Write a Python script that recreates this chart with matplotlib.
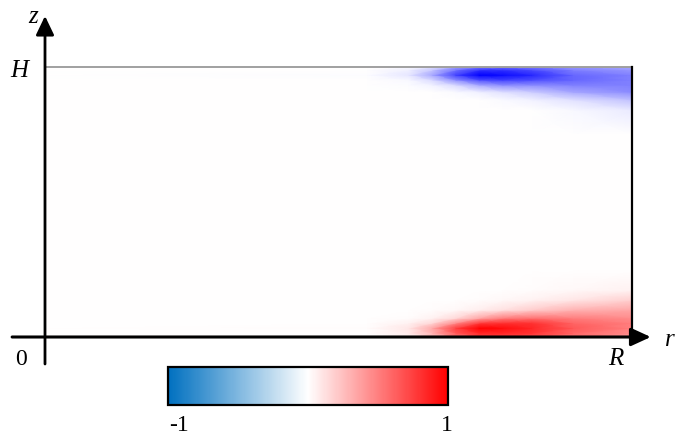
import numpy as np
import matplotlib
matplotlib.use("Agg")
import matplotlib.pyplot as plt
from matplotlib.colors import LinearSegmentedColormap, Normalize
import matplotlib as mpl

# ---- data (fractions of R and H) ----
r_pts = [0.0, 0.55, 0.62, 0.66, 0.70, 0.74, 0.78, 0.83, 0.90, 1.0]
z_pts = [0.0, 0.015, 0.033, 0.052, 0.07, 0.10, 0.137, 0.174, 0.25,
         0.75, 0.84, 0.878, 0.907, 0.933, 0.952, 0.970, 0.989, 1.0]
field = [
    [0, 0.00, 0.06, 0.25, 0.55, 0.75, 0.75, 0.70, 0.55, 0.42],
    [0, 0.00, 0.08, 0.30, 0.65, 0.85, 0.85, 0.80, 0.60, 0.45],
    [0, 0.01, 0.10, 0.35, 0.75, 1.00, 0.95, 0.85, 0.65, 0.50],
    [0, 0.00, 0.05, 0.15, 0.45, 0.75, 0.80, 0.80, 0.60, 0.50],
    [0, 0.00, 0.01, 0.05, 0.15, 0.35, 0.50, 0.55, 0.50, 0.45],
    [0, 0.00, 0.00, 0.01, 0.03, 0.07, 0.12, 0.20, 0.30, 0.35],
    [0, 0.00, 0.00, 0.00, 0.00, 0.01, 0.03, 0.05, 0.10, 0.18],
    [0, 0.00, 0.00, 0.00, 0.00, 0.00, 0.00, 0.01, 0.03, 0.05],
    [0, 0.00, 0.00, 0.00, 0.00, 0.00, 0.00, 0.00, 0.00, 0.00],
    [0, 0.00, 0.00, 0.00, 0.00, 0.00, 0.00, 0.00, 0.00, 0.00],
    [0, 0.00, 0.00, 0.00, 0.00, 0.00, 0.00, 0.00, -0.03, -0.08],
    [0, 0.00, 0.00, 0.00, 0.00, 0.00, -0.02, -0.05, -0.12, -0.25],
    [0, 0.00, 0.00, 0.00, -0.02, -0.06, -0.12, -0.20, -0.35, -0.45],
    [0, 0.00, -0.01, -0.05, -0.15, -0.35, -0.45, -0.45, -0.50, -0.50],
    [0, 0.00, -0.03, -0.15, -0.45, -0.70, -0.75, -0.70, -0.60, -0.50],
    [0, -0.01, -0.10, -0.35, -0.75, -1.00, -0.95, -0.85, -0.60, -0.50],
    [0, 0.00, -0.06, -0.22, -0.55, -0.80, -0.80, -0.70, -0.50, -0.40],
    [0, 0.00, -0.03, -0.12, -0.35, -0.50, -0.55, -0.50, -0.40, -0.35],
]
cbar_labels = ["-1", "1"]

W, Hpx = 688, 436
fig = plt.figure(figsize=(W / 100, Hpx / 100), dpi=100)

# main axes: r in [0,1] -> x 45..632 ; z in [0,1] -> y 337..67
ax = fig.add_axes([45 / W, (Hpx - 337) / Hpx, 587 / W, 270 / Hpx])
ax.set_xlim(0, 1)
ax.set_ylim(0, 1)
ax.axis("off")

field_cmap = LinearSegmentedColormap.from_list("fld", ["#0000FF", "#FFFFFF", "#FF0000"])
RR, ZZ = np.meshgrid(r_pts, z_pts)
ax.pcolormesh(RR, ZZ, np.array(field), shading="gouraud", cmap=field_cmap,
              vmin=-1, vmax=1, zorder=1)

# frame lines
ax.plot([0, 1], [1, 1], color="#a0a0a0", lw=1.4, zorder=3, clip_on=False)
ax.plot([1, 1], [0, 1], color="black", lw=1.6, zorder=3, clip_on=False)

# axes with arrows
ax.annotate("", xy=(1.032, 0), xytext=(-0.056, 0), annotation_clip=False,
            arrowprops=dict(arrowstyle="-|>,head_length=1.2,head_width=0.55",
                            lw=2.2, color="black", shrinkA=0, shrinkB=0), zorder=4)
ax.annotate("", xy=(0, 1.189), xytext=(0, -0.1), annotation_clip=False,
            arrowprops=dict(arrowstyle="-|>,head_length=1.15,head_width=0.55",
                            lw=2.0, color="black", shrinkA=0, shrinkB=0), zorder=4)

serif = ["Liberation Serif", "DejaVu Serif"]
def px(x, y):
    return (x / W, 1 - y / Hpx)

fig.text(*px(33, 17), "z", family=serif, style="italic", fontsize=18, ha="center", va="center")
fig.text(*px(19, 71), "H", family=serif, style="italic", fontsize=18, ha="center", va="center")
fig.text(*px(21, 359), "0", family=serif, fontsize=17, ha="center", va="center")
fig.text(*px(616, 359), "R", family=serif, style="italic", fontsize=18, ha="center", va="center")
fig.text(*px(670, 340), "r", family=serif, style="italic", fontsize=18, ha="center", va="center")

# colorbar
cax = fig.add_axes([168 / W, (Hpx - 405) / Hpx, 280 / W, 38 / Hpx])
cbar_cmap = LinearSegmentedColormap.from_list("cb", ["#0070C0", "#FFFFFF", "#FF0000"])
cb = mpl.colorbar.ColorbarBase(cax, cmap=cbar_cmap, norm=Normalize(-1, 1),
                               orientation="horizontal")
cb.set_ticks([])
cb.outline.set_linewidth(1.6)
fig.text(*px(179, 425), cbar_labels[0], family=serif, fontsize=17, ha="center", va="center")
fig.text(*px(447, 425), cbar_labels[1], family=serif, fontsize=17, ha="center", va="center")

fig.savefig("out.png", dpi=100)
